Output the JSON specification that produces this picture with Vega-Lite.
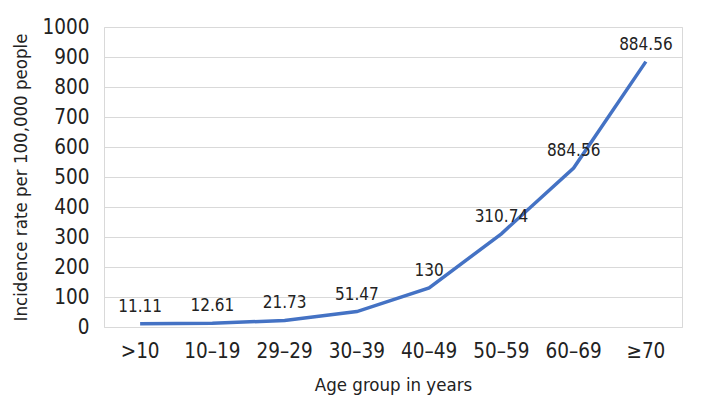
{
  "$schema": "https://vega.github.io/schema/vega-lite/v6.json",
  "width": 578,
  "height": 300,
  "autosize": {"type": "none"},
  "padding": {"left": 104, "top": 27, "right": 21, "bottom": 86},
  "background": "white",
  "config": {
    "view": {"stroke": "#d9d9d9", "strokeWidth": 1},
    "font": "DejaVu Sans Condensed, Roboto, sans-serif"
  },
  "data": {
    "values": [
      {"age": ">10", "rate": 11.11, "label": "11.11"},
      {"age": "10–19", "rate": 12.61, "label": "12.61"},
      {"age": "29–29", "rate": 21.73, "label": "21.73"},
      {"age": "30–39", "rate": 51.47, "label": "51.47"},
      {"age": "40–49", "rate": 130, "label": "130"},
      {"age": "50–59", "rate": 310.74, "label": "310.74"},
      {"age": "60–69", "rate": 530, "label": "884.56"},
      {"age": "≥70", "rate": 884.56, "label": "884.56"}
    ]
  },
  "encoding": {
    "x": {
      "field": "age", "type": "nominal", "sort": null,
      "scale": {"type": "band", "paddingInner": 0, "paddingOuter": 0},
      "axis": {
        "title": "Age group in years", "labelAngle": 0, "domain": false, "ticks": false,
        "labelFontSize": 20.5, "labelColor": "#222", "labelPadding": 14,
        "titleFontSize": 18.5, "titleFontWeight": "normal", "titleColor": "#222", "titlePadding": 14,
        "labelFont": "DejaVu Sans Condensed, Roboto, sans-serif", "titleFont": "DejaVu Sans Condensed, Roboto, sans-serif"
      }
    },
    "y": {
      "field": "rate", "type": "quantitative",
      "scale": {"domain": [0, 1000], "nice": false},
      "axis": {
        "title": "Incidence rate per 100,000 people", "values": [0,100,200,300,400,500,600,700,800,900,1000], "format": "d",
        "domain": false, "ticks": false, "gridColor": "#d9d9d9", "gridWidth": 1,
        "labelFontSize": 20.5, "labelColor": "#222", "labelPadding": 15,
        "titleFontSize": 18.5, "titleFontWeight": "normal", "titleColor": "#222", "titlePadding": 12,
        "labelFont": "DejaVu Sans Condensed, Roboto, sans-serif", "titleFont": "DejaVu Sans Condensed, Roboto, sans-serif"
      }
    }
  },
  "layer": [
    {"mark": {"type": "line", "color": "#4472C4", "strokeWidth": 3.5}},
    {"mark": {"type": "text", "dy": -17, "fontSize": 17, "color": "#222", "font": "DejaVu Sans Condensed, Roboto, sans-serif"},
     "encoding": {"text": {"field": "label", "type": "nominal"}}}
  ]
}
